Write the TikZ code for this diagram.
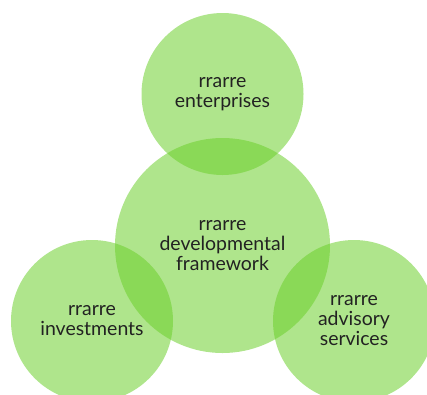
\documentclass[tikz,border=0pt]{standalone}
\usepackage{fontspec}
\setmainfont{Lato}
\begin{document}
\begin{tikzpicture}[x=0.75pt,y=-0.75pt,
  blob/.style={circle,inner sep=0pt,fill={rgb,255:red,107;green,207;blue,42},
    fill opacity=0.54,text opacity=1,text={rgb,255:red,34;green,34;blue,34},
    align=center,font=\fontsize{14.6}{15}\selectfont}]
\useasboundingbox (0,0) rectangle (427,394);
\begin{scope}
\clip (0,0) rectangle (427,394);
\node[blob,minimum size=162*0.75pt] (ent) at (222.5,94) {rrarre\\enterprises};
\node[blob,minimum size=215*0.75pt] (dev) at (222.5,245.5) {rrarre\\developmental\\framework};
\node[blob,minimum size=162*0.75pt] (inv) at (92,321) {rrarre\\investments};
\node[blob,minimum size=162*0.75pt] (adv) at (354,321) {rrarre\\advisory\\services};
\end{scope}
\end{tikzpicture}
\end{document}
